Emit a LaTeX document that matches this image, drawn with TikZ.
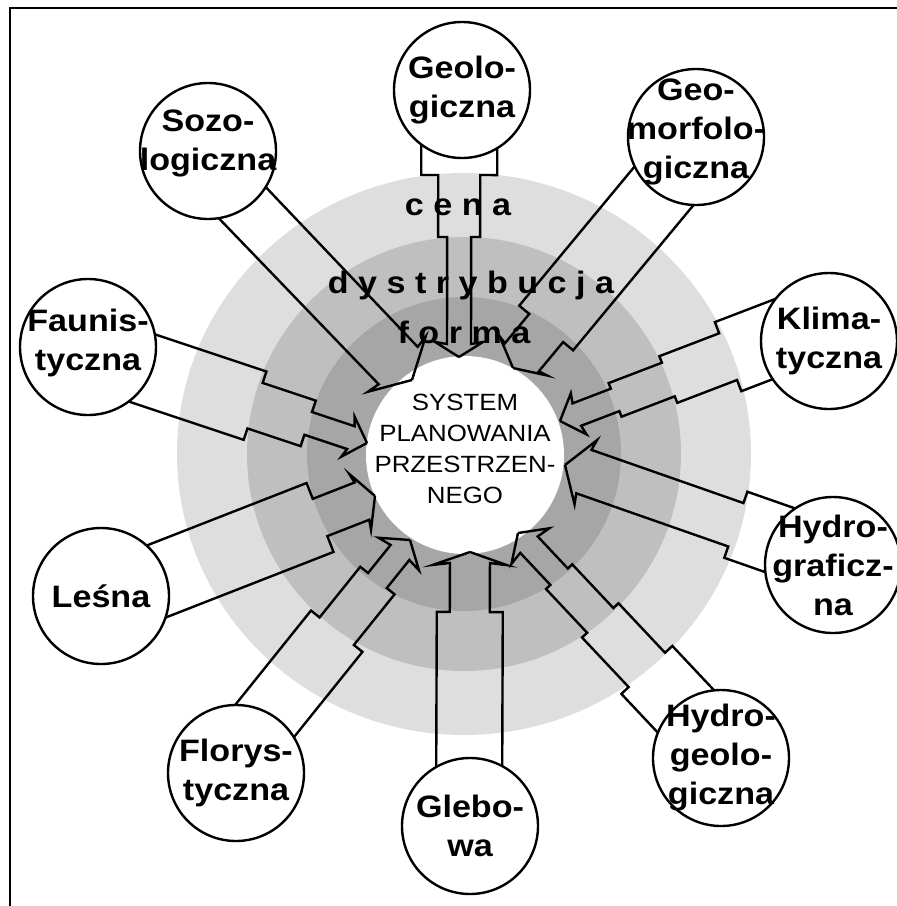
\documentclass[tikz,border=0pt]{standalone}
\usepackage{fontspec}
\setmainfont{Liberation Sans}[FakeStretch=1.1]
\usetikzlibrary{calc}
\definecolor{ring-outer}{gray}{0.87}
\definecolor{ring-mid}{gray}{0.75}
\definecolor{ring-inner}{gray}{0.65}

% stepped outline from tip #2 back to #1, one side per list (dist/halfwidth)
\newcommand{\pipearrow}[4]{%
  \draw[pipeline] (#2) \foreach \dd/\ww in {#3} { -- ($(#2)!\dd pt!(#1)!\ww pt!90:(#1)$) };
  \draw[pipeline] (#2) \foreach \dd/\ww in {#4} { -- ($(#2)!\dd pt!(#1)!\ww pt!-90:(#1)$) };
}

\begin{document}
\begin{tikzpicture}[x=1pt, y=-1pt,
    pipeline/.style={line width=2.4pt, line join=miter},
    sat/.style={circle, draw, fill=white, line width=2.4pt, minimum size=136pt, inner sep=0pt},
    sattext/.style={font=\bfseries\fontsize{31}{39}\selectfont, align=center, inner sep=0pt},
    ringword/.style={font=\bfseries\fontsize{31}{31}\selectfont, anchor=base, inner sep=0pt}]
    \useasboundingbox (0,0) rectangle (897,906);
    \draw[line width=2pt] (10,906) -- (10,7.5) -- (897,7.5);

    % rings
    \fill[ring-outer] (464,454) ellipse [x radius=287pt, y radius=281pt];
    \fill[ring-mid] (464,454) circle [radius=217pt];
    \fill[ring-inner] (464,454) circle [radius=157pt];
    \node[circle, fill=white, minimum size=198pt, inner sep=0pt] (centre) at (465,455) {};

    \node[ringword] (cena) at (458,215) {c e n a};
    \node[ringword] (dystr) at (471,293) {d y s t r y b u c j a};
    \node[ringword] (forma) at (464,343) {f o r m a};

    % arrows: far point only sets the direction
    \coordinate (geo-s) at (459.5,-43.5);  \coordinate (geo-t) at (459,357);
    \coordinate (sozo-s) at (79,32);       \coordinate (sozo-t) at (412,380);
    \coordinate (morf-s) at (753,78.5);    \coordinate (morf-t) at (513,368);
    \coordinate (klima-s) at (963.5,266.5);\coordinate (klima-t) at (560,421);
    \coordinate (hgraf-s) at (989.5,613.5);\coordinate (hgraf-t) at (565,465);
    \coordinate (hgeo-s) at (806,839);     \coordinate (hgeo-t) at (518,533);
    \coordinate (gleb-s) at (468.5,963);   \coordinate (gleb-t) at (470,552);
    \coordinate (flory-s) at (128,891);    \coordinate (flory-t) at (410,540);
    \coordinate (lesna-s) at (-16.5,649);  \coordinate (lesna-t) at (375,496);
    \coordinate (fauna-s) at (-51.5,303.5);\coordinate (fauna-t) at (367,443);

    \pipearrow{geo-s}{geo-t}{15/24, 13/12, 120/12, 120/21, 182/21, 182/38, 270/38}{15/24, 13/12, 120/12, 120/21, 182/21, 182/38, 270/38}
    \pipearrow{sozo-s}{sozo-t}{22/40, 20/27, 330/28}{22/40, 20/27, 330/28}
    \pipearrow{morf-s}{morf-t}{16/31, 14/22, 52/22, 52/35, 260/35}{16/31, 14/22, 52/22, 52/35, 260/35}
    \pipearrow{klima-s}{klima-t}{20/22, 18/12, 59/12, 59/18, 116/18, 116/25, 180/25, 180/37, 300/37}{20/22, 18/12, 59/12, 59/18, 116/18, 116/25, 180/25, 180/37, 300/37}
    \pipearrow{hgraf-s}{hgraf-t}{22/34, 20/23, 181/23, 181/35, 300/35}{22/34, 20/23, 181/23, 181/35, 300/35}
    \pipearrow{hgeo-s}{hgeo-t}{18/26, 16/12, 60/12, 60/18, 120/18, 120/25, 188/25, 188/35, 280/35}{18/26, 16/12, 60/12, 60/18, 120/18, 120/25, 188/25, 188/35, 280/35}
    \pipearrow{gleb-s}{gleb-t}{13/37, 11/20, 60/20, 60/33, 280/33}{13/37, 11/20, 60/20, 60/33, 280/33}
    \pipearrow{flory-s}{flory-t}{18/26, 16/12, 52/12, 52/22, 117/22, 117/33, 300/33}{18/26, 16/12, 52/12, 52/22, 117/22, 117/33, 300/33}
    \pipearrow{lesna-s}{lesna-t}{16/30, 14/20, 59/20, 59/37, 280/37}{16/30, 14/20, 59/20, 59/37, 280/37}
    \pipearrow{fauna-s}{fauna-t}{20/21, 17/12, 62/12, 62/24, 118/24, 118/36, 300/36}{20/21, 17/12, 62/12, 62/24, 118/24, 118/36, 300/36}

    \node[font=\fontsize{23.5}{31}\selectfont, align=center, inner sep=0pt] (centre-t) at (465,449) {SYSTEM\\PLANOWANIA\\PRZESTRZEN-\\NEGO};

    % satellites
    \node[sat] (geo) at (462,90) {};
    \node[sattext] (geo-l) at (geo) {Geolo-\\giczna};
    \node[sat] (morf) at (696,137) {};
    \node[sattext, yshift=5pt] (morf-l) at (morf) {Geo-\\morfolo-\\giczna};
    \node[sat] (sozo) at (208,151) {};
    \node[sattext, yshift=8pt] (sozo-l) at (sozo) {Sozo-\\logiczna};
    \node[sat] (klima) at (829,341) {};
    \node[sattext] (klima-l) at (klima) {Klima-\\tyczna};
    \node[sat] (hgraf) at (833,565) {};
    \node[sattext] (hgraf-l) at (hgraf) {Hydro-\\graficz-\\na};
    \node[sat] (hgeo) at (721,758) {};
    \node[sattext] (hgeo-l) at (hgeo) {Hydro-\\geolo-\\giczna};
    \node[sat] (gleb) at (470,826) {};
    \node[sattext] (gleb-l) at (gleb) {Glebo-\\wa};
    \node[sat] (flory) at (236,773) {};
    \node[sattext] (flory-l) at (flory) {Florys-\\tyczna};
    \node[sat] (lesna) at (101,596) {};
    \node[sattext] (lesna-l) at (lesna) {Leśna};
    \node[sat] (fauna) at (88,347) {};
    \node[sattext, yshift=4pt] (fauna-l) at (fauna) {Faunis-\\tyczna};
\end{tikzpicture}
\end{document}
